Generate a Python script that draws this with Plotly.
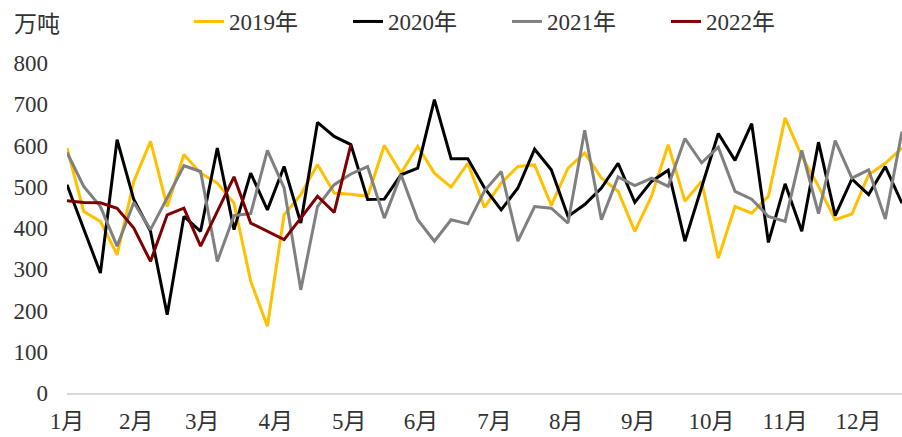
import plotly.graph_objects as go

week_index = list(range(51))

y2019 = [594, 440, 416, 335, 513, 610, 452, 578, 533, 509, 460, 271, 162,
         432, 481, 554, 485, 482, 477, 600, 533, 598, 533, 499, 557, 450,
         509, 549, 553, 455, 545, 582, 521, 489, 392, 477, 602, 465, 513,
         327, 452, 436, 477, 667, 574, 501, 420, 434, 529, 557, 594]
y2020 = [505, 396, 291, 614, 469, 392, 190, 428, 392, 594, 396, 533, 444,
         549, 412, 656, 622, 602, 469, 470, 529, 545, 711, 568, 568, 497,
         444, 497, 591, 541, 428, 457, 497, 557, 462, 513, 540, 368, 500,
         629, 564, 653, 365, 507, 392, 608, 430, 519, 481, 549, 460]
y2021 = [583, 501, 452, 356, 462, 396, 473, 551, 537, 319, 430, 435, 588,
         497, 250, 452, 505, 531, 549, 424, 529, 420, 368, 420, 410, 490,
         537, 368, 452, 448, 412, 637, 420, 524, 503, 521, 501, 617, 558,
         596, 489, 470, 428, 416, 588, 435, 612, 521, 541, 422, 634]
y2022 = [466, 462, 461, 448, 400, 319, 432, 448, 356, 440, 524, 412, 392,
         372, 424, 477, 438, 602]

series_names = ["2019年", "2020年", "2021年", "2022年"]
series_values = [y2019, y2020, y2021, y2022]
series_colors = ["#FFC000", "#000000", "#808080", "#7F0000"]

month_labels = ["1月", "2月", "3月", "4月", "5月", "6月",
                "7月", "8月", "9月", "10月", "11月", "12月"]
month_tick_pos = [0, 4.15, 8.1, 12.5, 16.9, 21.2, 25.6, 29.9, 34.2, 38.6, 43.0, 47.4]

y_ticks = [0, 100, 200, 300, 400, 500, 600, 700, 800]

FONT = "Liberation Serif, Noto Sans CJK SC, serif"
TXT = "#333333"
FS = 23

fig = go.Figure()
for name, vals, col in zip(series_names, series_values, series_colors):
    fig.add_trace(go.Scatter(
        x=week_index[:len(vals)], y=vals, mode="lines", name=name,
        line=dict(color=col, width=3),
    ))

fig.update_layout(
    width=902, height=437,
    paper_bgcolor="white", plot_bgcolor="white",
    margin=dict(l=67, r=0, t=63, b=44),
    font=dict(family=FONT, size=FS, color=TXT),
    showlegend=True,
    legend=dict(orientation="h", xref="container", x=189 / 902, xanchor="left",
                yref="container", y=1.0, yanchor="top",
                font=dict(size=FS, family=FONT, color=TXT),
                entrywidth=114, entrywidthmode="pixels",
                tracegroupgap=0, bgcolor="rgba(0,0,0,0)"),
    xaxis=dict(range=[0, 50], tickmode="array", tickvals=month_tick_pos,
               ticktext=month_labels, showgrid=False, zeroline=False,
               showline=True, linecolor="#D9D9D9", linewidth=2, ticks="",
               ticklabelstandoff=6),
    yaxis=dict(range=[0, 800], tickmode="array", tickvals=y_ticks,
               showgrid=False, zeroline=False, showline=False, ticks="",
               ticklabelstandoff=18),
    annotations=[dict(text="万吨", x=-55 / 835, y=369 / 330,
                      xref="paper", yref="paper",
                      xanchor="left", yanchor="middle", showarrow=False,
                      font=dict(size=FS, family=FONT, color=TXT))],
)

fig.write_html("out.html", config={"displayModeBar": False},
               post_script="document.body.style.margin='0';document.body.style.overflow='hidden';")
